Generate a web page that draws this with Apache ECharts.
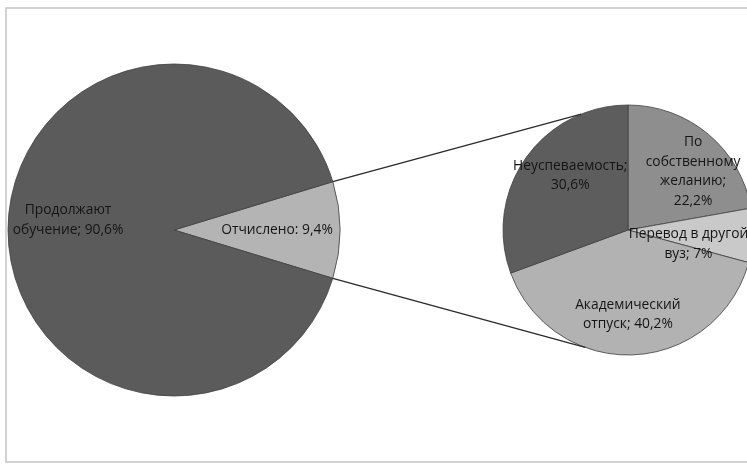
<!DOCTYPE html>
<html><head><meta charset="utf-8">
<script src="https://cdn.jsdelivr.net/npm/echarts@6/dist/echarts.min.js"></script>
<style>html,body{margin:0;padding:0;background:#fff}#c{width:747px;height:464px}</style>
</head><body><div id="c"></div>
<script>
// Main pie
const mainNames = ['Отчислено', 'Продолжают\nобучение'];
const mainValues = [9.4, 90.6];
const mainSeps = [': ', '; '];
// Breakdown of "Отчислено"
const subNames = ['По\nсобственному\nжеланию', 'Перевод в другой\nвуз', 'Академический\nотпуск', 'Неуспеваемость'];
const subValues = [22.2, 7, 40.2, 30.6];
const subSeps = [';\n', '; ', '; ', ';\n'];

const mainColors = ['#b4b4b4', '#5b5b5b'];
const subColors = ['#8e8e8e', '#c9c9c9', '#b2b2b2', '#5d5d5d'];
const mainLabelShift = [[17, 0], [-20, -10]];
const subLabelShift = [[23, -8], [-5, 11], [-3, 19], [-4, -17]];

const MC = [174, 230], MR = 166;
const SC = [628, 230], SR = 125;

function fmt(v){ return String(v).replace('.', ','); }
const startMain = mainValues[0] / 100 * 360 / 2;

const chart = echarts.init(document.getElementById('c'), null, {renderer: 'canvas'});
const font = {fontFamily: '"Open Sans", "Noto Sans", sans-serif', fontSize: 13.8, color: '#151515', lineHeight: 19.5};

// connector lines: from edges of "Отчислено" slice to the secondary pie
const a1 = startMain * Math.PI / 180;
const p1 = [MC[0] + MR * Math.cos(a1), MC[1] - MR * Math.sin(a1)];
const p2 = [MC[0] + MR * Math.cos(a1), MC[1] + MR * Math.sin(a1)];
const u = 112 * Math.PI / 180, d = 250 * Math.PI / 180;
const q1 = [SC[0] + SR * Math.cos(u), SC[1] - SR * Math.sin(u)];
const q2 = [SC[0] + SR * Math.cos(d), SC[1] - SR * Math.sin(d)];

chart.setOption({
  backgroundColor: '#fff',
  animation: false,
  graphic: [
    {type: 'polyline', shape: {points: [[747, 8], [6, 8], [6, 462], [747, 462]]}, style: {stroke: '#c4c4c4', lineWidth: 1.5, fill: null}},
    {type: 'line', shape: {x1: p1[0], y1: p1[1], x2: q1[0], y2: q1[1]}, style: {stroke: '#2a2a2a', lineWidth: 1.3}, z: 10},
    {type: 'line', shape: {x1: p2[0], y1: p2[1], x2: q2[0], y2: q2[1]}, style: {stroke: '#2a2a2a', lineWidth: 1.3}, z: 10}
  ],
  series: [
    {
      type: 'pie', center: MC, radius: [0, MR], startAngle: startMain, clockwise: true,
      avoidLabelOverlap: false,
      itemStyle: {borderColor: '#404040', borderWidth: 0.8},
      label: Object.assign({position: 'inside', formatter: p => p.name + mainSeps[p.dataIndex] + fmt(p.value) + '%'}, font),
      labelLine: {show: false},
      labelLayout: p => ({dx: mainLabelShift[p.dataIndex][0], dy: mainLabelShift[p.dataIndex][1]}),
      data: mainNames.map((n, i) => ({name: n, value: mainValues[i], itemStyle: {color: mainColors[i]}}))
    },
    {
      type: 'pie', center: SC, radius: [0, SR], startAngle: 90, clockwise: true,
      avoidLabelOverlap: false,
      itemStyle: {borderColor: '#404040', borderWidth: 0.8},
      label: Object.assign({position: 'inside', formatter: p => p.name + subSeps[p.dataIndex] + fmt(p.value) + '%'}, font),
      labelLine: {show: false},
      labelLayout: p => ({dx: subLabelShift[p.dataIndex][0], dy: subLabelShift[p.dataIndex][1]}),
      data: subNames.map((n, i) => ({name: n, value: subValues[i], itemStyle: {color: subColors[i]}}))
    }
  ]
});
</script></body></html>
